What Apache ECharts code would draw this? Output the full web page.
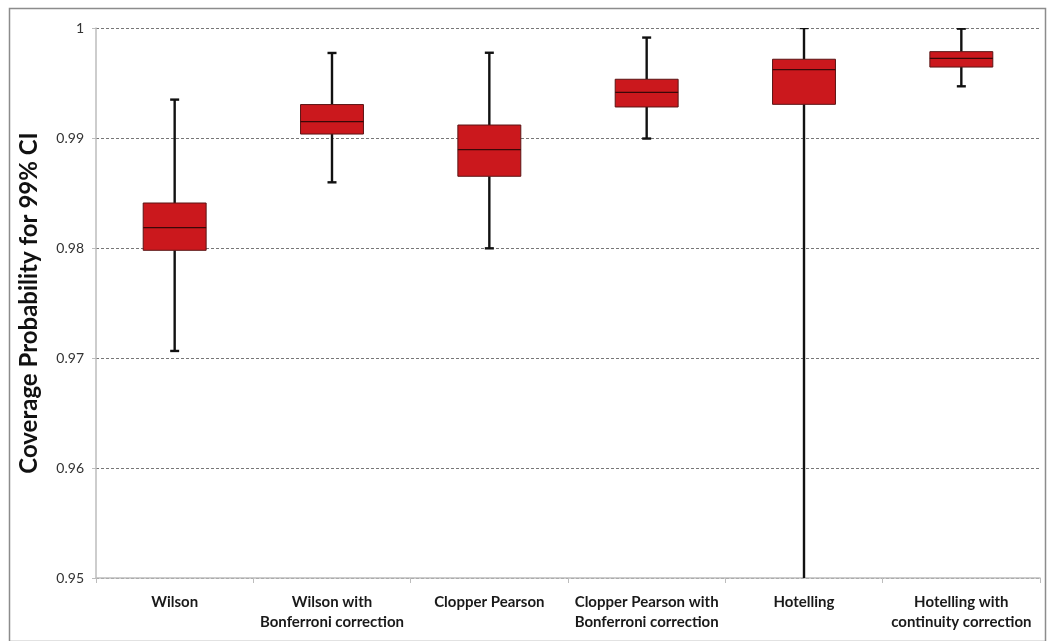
<!DOCTYPE html>
<html>
<head>
<meta charset="utf-8">
<script src="https://cdn.jsdelivr.net/npm/echarts@6/dist/echarts.min.js"></script>
<style>
html,body{margin:0;padding:0;background:#fff;}
#chart{width:1049px;height:641px;}
</style>
</head>
<body>
<div id="chart"></div>
<script>
const categories = [
  'Wilson',
  'Wilson with\nBonferroni correction',
  'Clopper Pearson',
  'Clopper Pearson with\nBonferroni correction',
  'Hotelling',
  'Hotelling with\ncontinuity correction'
];
const lowValues    = [0.97064, 0.98597, 0.97997, 0.98995, 0.945,   0.99470];
const q1Values     = [0.97979, 0.99036, 0.98652, 0.99282, 0.99306, 0.99645];
const medianValues = [0.98185, 0.99149, 0.98894, 0.99415, 0.99622, 0.99724];
const q3Values     = [0.98409, 0.99304, 0.99118, 0.99534, 0.99716, 0.99785];
const highValues   = [0.99349, 0.99773, 0.99775, 0.99913, 1.0,     0.99994];
const yTicks = { min: 0.95, max: 1.0, interval: 0.01 };

const data = categories.map((c, i) => [i, lowValues[i], q1Values[i], medianValues[i], q3Values[i], highValues[i]]);

function renderItem(params, api) {
  const x = api.value(0);
  const low = api.coord([x, api.value(1)]);
  const q1 = api.coord([x, api.value(2)]);
  const med = api.coord([x, api.value(3)]);
  const q3 = api.coord([x, api.value(4)]);
  const high = api.coord([x, api.value(5)]);
  const bw = api.size([1, 0])[0] * 0.4;
  const cx = low[0];
  const cap = 4.5;
  const wStyle = { stroke: '#111', lineWidth: 2.4 };
  return {
    type: 'group',
    children: [
      { type: 'line', shape: { x1: cx, y1: high[1], x2: cx, y2: q3[1] }, style: wStyle },
      { type: 'line', shape: { x1: cx, y1: q1[1], x2: cx, y2: low[1] }, style: wStyle },
      { type: 'line', shape: { x1: cx - cap, y1: high[1], x2: cx + cap, y2: high[1] }, style: wStyle },
      { type: 'line', shape: { x1: cx - cap, y1: low[1], x2: cx + cap, y2: low[1] }, style: wStyle },
      { type: 'rect', shape: { x: cx - bw / 2, y: q3[1], width: bw, height: q1[1] - q3[1] },
        style: { fill: '#CB181D', stroke: '#5a1414', lineWidth: 1 } },
      { type: 'line', shape: { x1: cx - bw / 2, y1: med[1], x2: cx + bw / 2, y2: med[1] },
        style: { stroke: '#3a0808', lineWidth: 1.4 } }
    ]
  };
}

const chart = echarts.init(document.getElementById('chart'));
chart.setOption({
  animation: false,
  backgroundColor: '#fff',
  graphic: [{
    type: 'rect', left: 7, top: 6,
    shape: { width: 1036, height: 633 },
    style: { fill: 'none', stroke: '#8c8c8c', lineWidth: 1.5 },
    silent: true
  }],
  grid: { left: 96, right: 9, top: 28, bottom: 63 },
  xAxis: {
    type: 'category',
    data: categories,
    boundaryGap: true,
    axisLine: { lineStyle: { color: '#bdbdbd', width: 1.5 } },
    axisTick: { show: true, alignWithLabel: false, length: 5, lineStyle: { color: '#bdbdbd' } },
    axisLabel: {
      interval: 0, margin: 14, color: '#1a1a1a', fontFamily: 'Lato, "Open Sans", sans-serif',
      fontWeight: 'bold', fontSize: 15, lineHeight: 20
    },
    splitLine: { show: false }
  },
  yAxis: {
    type: 'value',
    min: yTicks.min, max: yTicks.max, interval: yTicks.interval,
    name: 'Coverage Probability for 99% CI',
    nameLocation: 'middle', nameGap: 55, nameRotate: 90,
    nameTextStyle: { fontFamily: 'Lato, "Open Sans", sans-serif', fontWeight: 'bold', fontSize: 24, color: '#111' },
    axisLine: { show: true, lineStyle: { color: '#bdbdbd', width: 1.5 } },
    axisTick: { show: true, length: 4, lineStyle: { color: '#bdbdbd' } },
    axisLabel: {
      color: '#333', fontFamily: 'Lato, "Open Sans", sans-serif', fontSize: 14, margin: 12,
      formatter: v => String(+v.toFixed(2))
    },
    splitLine: { show: true, lineStyle: { color: '#777', type: [3, 2], width: 1 } }
  },
  series: [{
    type: 'custom',
    renderItem: renderItem,
    clip: true,
    encode: { x: 0, y: [1, 2, 3, 4, 5] },
    data: data
  }]
});
</script>
</body>
</html>
